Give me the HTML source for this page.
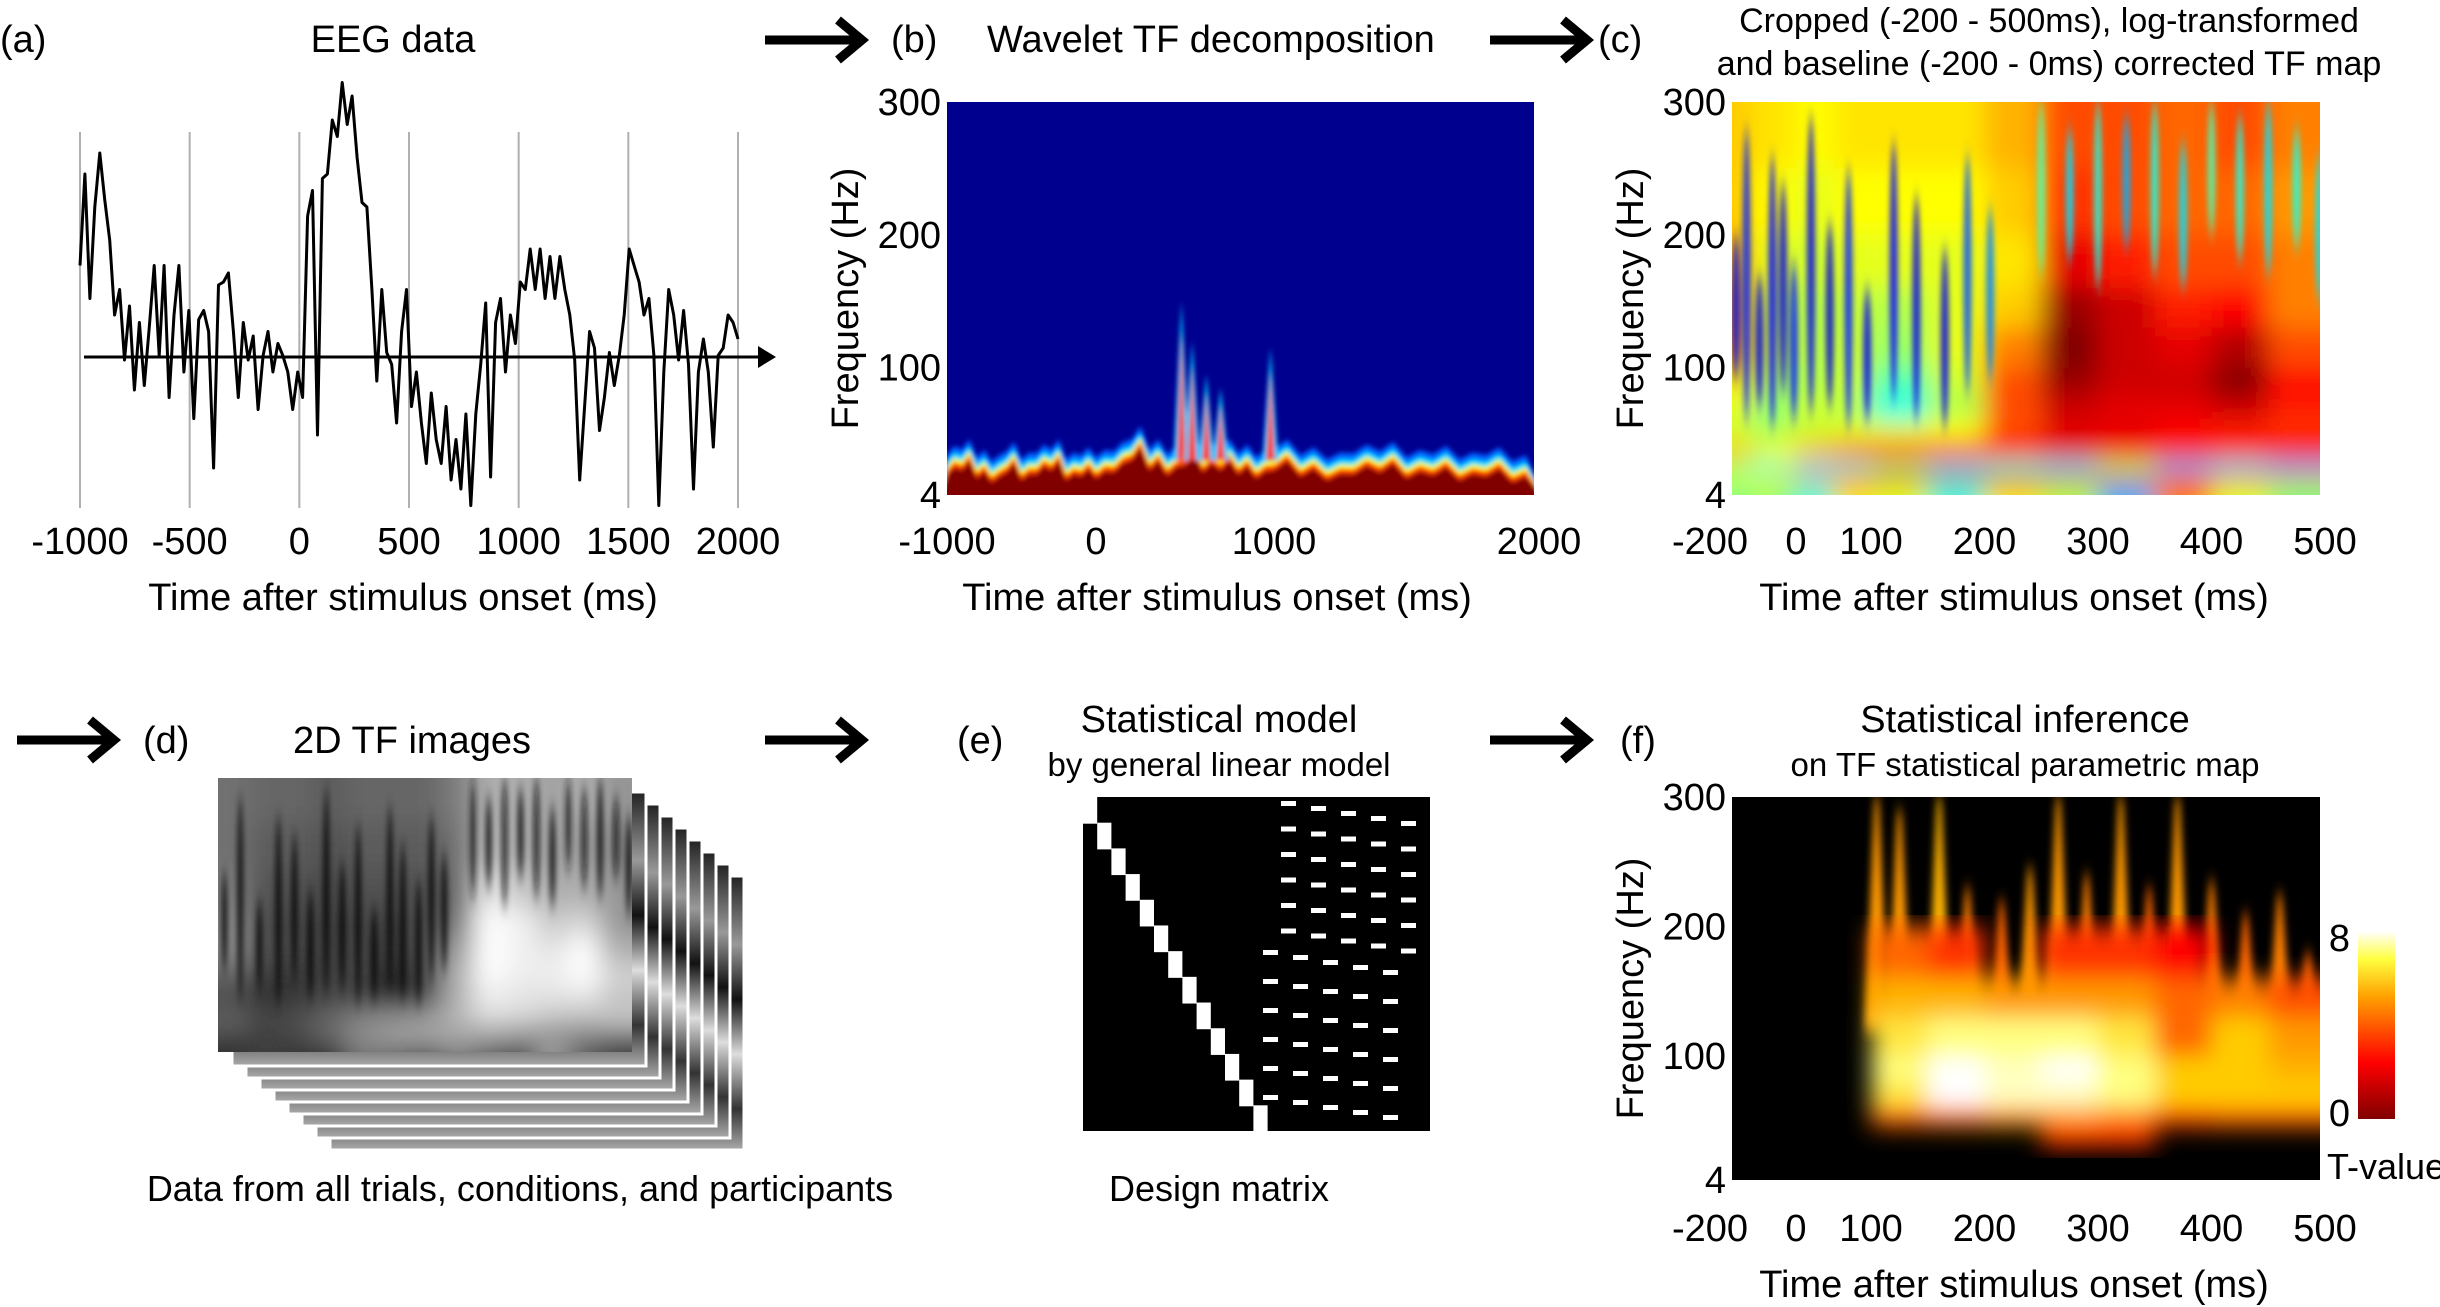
<!DOCTYPE html>
<html><head><meta charset="utf-8"><style>
html,body{margin:0;padding:0;background:#fff;}
svg{display:block;}
text{font-family:"Liberation Sans",Arial,sans-serif;fill:#000;}
</style></head><body>
<svg id="fig" width="2440" height="1307" viewBox="0 0 2440 1307" xmlns="http://www.w3.org/2000/svg">
<defs>
  <filter id="blurC" x="-5%" y="-5%" width="110%" height="110%"><feGaussianBlur stdDeviation="13"/></filter>
  <filter id="blurS" x="-30%" y="-10%" width="160%" height="120%"><feGaussianBlur stdDeviation="3 9"/></filter>
  <filter id="blurF" x="-5%" y="-5%" width="110%" height="110%"><feGaussianBlur stdDeviation="12"/></filter>
  <filter id="blurT" x="-30%" y="-5%" width="160%" height="110%"><feGaussianBlur stdDeviation="4 8"/></filter>
  <filter id="blurB" x="-5%" y="-5%" width="110%" height="110%"><feGaussianBlur stdDeviation="2.5"/></filter>
  <clipPath id="clipB"><rect x="947" y="102" width="587" height="393"/></clipPath>
  <clipPath id="clipC"><rect x="1732" y="102" width="588" height="393"/></clipPath>
  <clipPath id="clipD"><rect x="218" y="778" width="414" height="274"/></clipPath>
  <clipPath id="clipF"><rect x="1732" y="797" width="588" height="383"/></clipPath>
  <linearGradient id="hotBar" x1="0" y1="1" x2="0" y2="0">
    <stop offset="0" stop-color="#800000"/><stop offset="0.3" stop-color="#ff0000"/>
    <stop offset="0.65" stop-color="#ffa000"/><stop offset="0.85" stop-color="#ffff40"/>
    <stop offset="1" stop-color="#ffffff"/>
  </linearGradient>
  <linearGradient id="stripes" x1="0" y1="0" x2="0" y2="1">
    <stop offset="0" stop-color="#222"/><stop offset="0.25" stop-color="#999"/>
    <stop offset="0.45" stop-color="#111"/><stop offset="0.65" stop-color="#ddd"/>
    <stop offset="0.85" stop-color="#333"/><stop offset="1" stop-color="#aaa"/>
  </linearGradient>
</defs>

<g>
  <text x="0" y="52" font-size="38">(a)</text>
  <text x="393" y="52" font-size="38" text-anchor="middle">EEG data</text>
</g>
<g><line x1="765" y1="40" x2="858" y2="40" stroke="#000" stroke-width="9"/><polyline points="838,20 862,40 838,60" fill="none" stroke="#000" stroke-width="9"/></g>
<g>
  <text x="891" y="52" font-size="38">(b)</text>
  <text x="987" y="52" font-size="38">Wavelet TF decomposition</text>
</g>
<g><line x1="1490" y1="40" x2="1583" y2="40" stroke="#000" stroke-width="9"/><polyline points="1563,20 1587,40 1563,60" fill="none" stroke="#000" stroke-width="9"/></g>
<g>
  <text x="1598" y="52" font-size="38">(c)</text>
  <text x="2049" y="32" font-size="34" text-anchor="middle">Cropped (-200 - 500ms), log-transformed</text>
  <text x="2049" y="75" font-size="34" text-anchor="middle">and baseline (-200 - 0ms) corrected TF map</text>
</g>
<g><line x1="17" y1="740" x2="110" y2="740" stroke="#000" stroke-width="9"/><polyline points="90,720 114,740 90,760" fill="none" stroke="#000" stroke-width="9"/></g>
<g>
  <text x="143" y="753" font-size="38">(d)</text>
  <text x="412" y="753" font-size="38" text-anchor="middle">2D TF images</text>
</g>
<g><line x1="765" y1="740" x2="858" y2="740" stroke="#000" stroke-width="9"/><polyline points="838,720 862,740 838,760" fill="none" stroke="#000" stroke-width="9"/></g>
<g>
  <text x="957" y="753" font-size="38">(e)</text>
  <text x="1219" y="732" font-size="38" text-anchor="middle">Statistical model</text>
  <text x="1219" y="776" font-size="33" text-anchor="middle">by general linear model</text>
</g>
<g><line x1="1490" y1="740" x2="1583" y2="740" stroke="#000" stroke-width="9"/><polyline points="1563,720 1587,740 1563,760" fill="none" stroke="#000" stroke-width="9"/></g>
<g>
  <text x="1620" y="753" font-size="38">(f)</text>
  <text x="2025" y="732" font-size="38" text-anchor="middle">Statistical inference</text>
  <text x="2025" y="776" font-size="33" text-anchor="middle">on TF statistical parametric map</text>
</g>

<g id="panelA"></g>
<g id="panelB"></g>
<g id="panelC"></g>
<g id="panelD"></g>
<g id="panelE"></g>
<g id="panelF"></g>

<text x="520" y="1201" font-size="36" text-anchor="middle">Data from all trials, conditions, and participants</text>
<text x="1219" y="1201" font-size="36" text-anchor="middle">Design matrix</text>
</svg>

<script>
// ---------------- DATA ----------------
const eegValues = [61,122,39,100,136,105,78,28,45,-2,34,-22,23,-19,20,61,1,61,-27,28,61,-10,31,-41,25,31,17,-74,48,50,56,17,-27,23,-2,14,-35,1,17,-10,9,1,-10,-35,-10,-27,94,111,-52,119,122,158,147,183,155,174,133,103,100,45,-16,45,3,-5,-44,17,45,-33,-10,-44,-71,-24,-55,-71,-33,-82,-55,-88,-38,-99,-38,-5,36,-80,23,39,-10,28,9,50,45,72,45,72,39,67,39,67,45,28,-2,-82,-33,17,6,-49,-27,3,-19,1,28,72,61,50,28,39,1,-99,-10,45,28,-2,31,-5,-88,-10,12,-10,-60,1,6,28,23,12];
const eegTicks = [-1000,-500,0,500,1000,1500,2000];

const bBandTop = [25,30,22,18,28,20,26,30,20,24,22,28,40,30,25,35,28,30,26,22,30,24,20,26,28,22,25,20,24,18];
const bSpikeTimes = [480,540,620,700,980];
const bSpikeTops = [150,120,95,85,115];
const bXTicks = [-1000,0,1000,2000];
const freqTicks = [4,100,200,300];

const cFreqEdges = [300,250,200,160,130,100,80,60,45,30,20,12,4];
const cTimeStarts = [-150,-100,-50,0,50,100,150,200,250,300,350,400,450];
const cValues = [
 [0.35,0.3,0.3,0.25,0.3,0.3,0.3,0.4,0.6,0.6,0.55,0.6,0.5],
 [0.35,0.25,0.25,0.2,0.25,0.25,0.25,0.35,0.65,0.6,0.55,0.55,0.45],
 [0.4,0.2,0.2,0.15,0.2,0.2,0.2,0.3,0.8,0.7,0.6,0.6,0.5],
 [0.45,0.15,0.15,0.1,0.15,0.1,0.2,0.35,0.95,0.85,0.7,0.75,0.5],
 [0.45,0.15,0.15,0.1,0.15,0.05,0.2,0.5,1.0,0.85,0.8,0.9,0.6],
 [0.3,0.1,0.05,0.1,0.15,-0.1,0.15,0.6,0.95,0.85,0.85,1.0,0.75],
 [0.2,0.0,0.05,0.15,0.1,-0.2,0.1,0.6,0.85,0.8,0.8,0.85,0.7],
 [0.15,0.05,0.1,0.15,0.2,0.2,0.25,0.6,0.8,0.8,0.75,0.7,0.65],
 [0.35,0.2,0.25,0.4,0.55,0.6,0.65,0.7,0.8,0.75,0.7,0.7,0.75],
 [0.0,-0.2,-0.1,-0.3,-0.2,0.0,-0.3,-0.2,-0.3,0.0,-0.4,-0.3,-0.4],
 [0.2,0.2,0.3,0.5,0.7,0.8,0.85,0.85,0.8,0.75,0.7,0.6,0.5],
 [0.0,0.1,0.0,-0.2,0.3,0.2,-0.2,0.3,0.1,-0.4,0.5,0.2,0.0]
];
// narrow low-power streaks in (c): time, low and high frequency, value
const cStreakTimes = [-140,-115,-85,-55,-30,-5,20,45,70,95,120,140,165,185,205,250,275,300,325,350,375,400,425,450,475,495];
const cStreakBottoms = [90,60,70,55,80,60,65,70,55,60,75,60,55,80,90,170,180,160,190,170,160,200,180,170,190,150];
const cStreakTops = [200,280,170,260,240,180,290,210,250,160,270,230,190,260,220,300,280,300,290,300,270,300,290,300,280,260];
const cStreakValues = [-0.8,-0.7,-0.8,-0.75,-0.8,-0.7,-0.8,-0.85,-0.7,-0.8,-0.75,-0.8,-0.8,-0.6,-0.5,-0.1,-0.3,-0.2,-0.4,-0.2,-0.3,-0.1,-0.2,-0.3,-0.2,-0.3];
const cXTicks = [-200,0,100,200,300,400,500];

const fValues = [
 [0,0,0,0,0,0,0,0,0,0,0,0,0],
 [0,0,0,0,0,0,0,0,0,0,0,0,0],
 [0,0,0,0,0,4,3,0,3,3,2,0,0],
 [0,0,0,0,0,5.5,5.5,5,5,5,4,4.5,3.5],
 [0,0,0,0,0,6.5,7,7,7,6.5,4,6,5],
 [0,0,0,0,0,7,8,7.5,8,7,6,6,5.5],
 [0,0,0,0,0,6.5,8,7.5,7.5,7,6,6,6],
 [0,0,0,0,0,4,4.5,5,5,4.5,3.5,4,4],
 [0,0,0,0,0,0,0,0,3,3,0,0,0],
 [0,0,0,0,0,0,0,0,0,0,0,0,0],
 [0,0,0,0,0,0,0,0,0,0,0,0,0],
 [0,0,0,0,0,0,0,0,0,0,0,0,0]
];
const fTongueTimes = [105,125,160,185,215,240,265,290,320,345,370,400,430,460,485];
const fTongueTops = [300,290,300,230,220,245,300,240,300,230,300,235,210,225,180];
const fTongueValues = [5,5,5.5,4.5,4,5,5,4.5,5,4,5,4.5,4,4.5,4];
const fColorbarTicks = [0,8];

const nSubjects = 13;
const nConditions = 5;
const nTrialRowsTop = 6;
const nTrialRowsBottom = 6;

// ---------------- HELPERS ----------------
const NS = 'http://www.w3.org/2000/svg';
function mk(tag, attrs, parent){ const e=document.createElementNS(NS,tag); for(const k in attrs) e.setAttribute(k,attrs[k]); if(parent) parent.appendChild(e); return e; }
function piece(dom, rng){ return v => { for(let i=0;i<dom.length-1;i++){ if(v<=dom[i+1]||i===dom.length-2){ return rng[i]+(v-dom[i])*(rng[i+1]-rng[i])/(dom[i+1]-dom[i]); } } }; }
function clamp(v){ return Math.max(0,Math.min(1,v)); }
function jet(v){ const t=(v+1)/2; const r=clamp(1.5-Math.abs(4*t-3)), g=clamp(1.5-Math.abs(4*t-2)), b=clamp(1.5-Math.abs(4*t-1)); return `rgb(${Math.round(r*255)},${Math.round(g*255)},${Math.round(b*255)})`; }
function gray(v){ const t=clamp((v+0.35)/1.25); const c=Math.round(Math.pow(t,1.4)*255); return `rgb(${c},${c},${c})`; }
function hot(v){ const t=clamp(v/8); const r=clamp(0.5+t*2.2), g=clamp((t-0.25)*1.6), b=clamp((t-0.75)*4); return `rgb(${Math.round(r*255)},${Math.round(g*255)},${Math.round(b*255)})`; }
function txt(parent, x, y, s, size, anchor){ const t=mk('text',{x:x,y:y,'font-size':size,'text-anchor':anchor||'middle'},parent); t.textContent=s; return t; }

// ---------------- PANEL A ----------------
(function(){
  const g=document.getElementById('panelA');
  const x=piece([-1000,2000],[80,738]);
  const y=v=>357 - v*1.5;
  eegTicks.forEach(t=>{
    const l=mk('line',{x1:x(t),x2:x(t),y1:132,y2:508,stroke:'#b0b0b0','stroke-width':2},g);
     
    const lb=txt(g,x(t),554,String(t),38);
     
  });
  const ax=mk('line',{x1:84,x2:762,y1:357,y2:357,stroke:'#000','stroke-width':3},g);
   
  const ah=mk('polygon',{points:'758,346 776,357 758,368',fill:'#000'},g);
   
  const n=eegValues.length;
  const pts=eegValues.map((v,i)=>`${x(-1000+i*3000/(n-1)).toFixed(1)},${y(v).toFixed(1)}`).join(' ');
  const p=mk('polyline',{points:pts,fill:'none',stroke:'#000','stroke-width':3,'stroke-linejoin':'round'},g);
   
  const at=txt(g,403,610,'Time after stimulus onset (ms)',38);
   
})();

function freqAxis(g, left, top, bottom, labelX, prefix){
  const fy=piece([4,300],[bottom,top]);
  freqTicks.forEach(f=>{
    const t=txt(g,left-6,fy(f)+13,String(f),38,'end');
     
  });
  const cy=(top+bottom)/2;
  const yl=txt(g,labelX,cy,'Frequency (Hz)',38);
  yl.setAttribute('transform',`rotate(-90 ${labelX} ${cy})`);
   
  return fy;
}

// ---------------- PANEL B ----------------
(function(){
  const g=document.getElementById('panelB');
  const x=piece([-1000,0,1000,2000],[947,1096,1274,1539]);
  const fy=freqAxis(g,947,102,495,858,'wavelet');
  const bg=mk('rect',{x:947,y:102,width:587,height:393,fill:'#00008f'},g);
   
  const hm=mk('g',{'clip-path':'url(#clipB)'},g);
   
  const inner=mk('g',{filter:'url(#blurB)'},hm);
  const n=bBandTop.length;
  const layers=[[16,'#0060ff'],[11,'#00d8ff'],[7,'#ffff00'],[4,'#ff4000'],[0,'#800000']];
  layers.forEach(([pad,col])=>{
    let pts=`${x(-1000)-10},${fy(4)+10} `;
    bBandTop.forEach((f,i)=>{ const t0=-1000+i*3000/n, t1=-1000+(i+1)*3000/n; pts+=`${x(t0)},${fy(f*0.75+pad)} ${x((t0+t1)/2)},${fy(f+pad)} `; });
    pts+=`${x(2000)+10},${fy(4)+10}`;
    const pg=mk('polygon',{points:pts,fill:col},inner);
     
  });
  bSpikeTimes.forEach((t,i)=>{
    const top=bSpikeTops[i];
    const s1=mk('polygon',{points:`${x(t)-8},${fy(30)} ${x(t)},${fy(top)} ${x(t)+8},${fy(30)}`,fill:'#00c8ff'},inner);
     
    const s2=mk('polygon',{points:`${x(t)-4},${fy(30)} ${x(t)},${fy(top*0.85)} ${x(t)+4},${fy(30)}`,fill:'#ff3000'},inner);
     
  });
  bXTicks.forEach(t=>{
    const lb=txt(g,x(t),554,String(t),38);
     
  });
  const at=txt(g,1217,610,'Time after stimulus onset (ms)',38);
   
})();

function grid(parent, values, cmap, x, fy, skipBelow){
  values.forEach((row,r)=>{
    row.forEach((v,c)=>{
      if(skipBelow!==undefined && v<skipBelow) return;
      const t0=cTimeStarts[c], t1=c+1<cTimeStarts.length?cTimeStarts[c+1]:500;
      const x0=c===0?x(t0)-40:x(t0), x1=c===row.length-1?x(t1)+30:x(t1);
      const y0=r===0?fy(cFreqEdges[r])-30:fy(cFreqEdges[r]);
      const y1=r===values.length-1?fy(cFreqEdges[r+1])+30:fy(cFreqEdges[r+1]);
      const rc=mk('rect',{x:x0,y:y0,width:x1-x0+0.5,height:y1-y0+0.5,fill:cmap(v)},parent);
       
    });
  });
}
function streaks(parent, cmap, x, fy, w){
  cStreakTimes.forEach((t,i)=>{
    const yb=fy(cStreakBottoms[i]), yt=fy(cStreakTops[i]);
    const e=mk('ellipse',{cx:x(t),cy:(yb+yt)/2,rx:w,ry:(yb-yt)/2,fill:cmap(cStreakValues[i]),opacity:0.85},parent);
     
  });
}

// ---------------- PANEL C ----------------
const cx=piece([-200,0,100,500],[1710,1796,1871,2325]);
(function(){
  const g=document.getElementById('panelC');
  const fy=freqAxis(g,1732,102,495,1643,'tf-corrected');
  const hm=mk('g',{'clip-path':'url(#clipC)'},g);
   
  const inner=mk('g',{filter:'url(#blurC)'},hm);
  grid(inner,cValues,jet,cx,fy);
  const sg=mk('g',{filter:'url(#blurS)'},hm);
  streaks(sg,jet,cx,fy,4);
  cXTicks.forEach(t=>{
    const lb=txt(g,cx(t),554,String(t),38);
     
  });
  const at=txt(g,2014,610,'Time after stimulus onset (ms)',38);
   
})();

// ---------------- PANEL D ----------------
(function(){
  const g=document.getElementById('panelD');
  for(let k=8;k>=1;k--){
    const lx=218+k*14, ly=778+k*12+2;
    const r=mk('rect',{x:lx,y:ly,width:414,height:274,fill:'url(#stripes)',stroke:'#fff','stroke-width':3},g);
     
  }
  const bg=mk('rect',{x:218,y:778,width:414,height:274,fill:'#fff'},g);
   
  const hm=mk('g',{'clip-path':'url(#clipD)'},g);
   
  const inner=mk('g',{filter:'url(#blurC)'},hm);
  const dx=piece([-150,500],[218,632]);
  const dfy=piece([4,300],[1052,778]);
  grid(inner,cValues,gray,dx,dfy);
  const sg=mk('g',{filter:'url(#blurS)'},hm);
  streaks(sg,gray,dx,dfy,3);
})();

// ---------------- PANEL E ----------------
(function(){
  const g=document.getElementById('panelE');
  const L=1083, T=797, W=347, H=334;
  const bg=mk('rect',{x:L,y:T,width:W,height:H,fill:'#000'},g);
   
  const sw=14.2, sh=H/nSubjects;
  for(let i=0;i<nSubjects;i++){
    const s=mk('rect',{x:L+i*sw,y:T+i*sh,width:sw,height:sh+1,fill:'#fff'},g);
     
  }
  const colW=30;
  for(let k=0;k<nTrialRowsTop;k++){
    for(let c=0;c<nConditions;c++){
      const d=mk('rect',{x:L+198+c*colW,y:T+4+k*25.5+c*5,width:15,height:5,fill:'#fff'},g);
       
    }
  }
  for(let k=0;k<nTrialRowsBottom;k++){
    for(let c=0;c<nConditions;c++){
      const d=mk('rect',{x:L+180+c*colW,y:T+153+k*29+c*5,width:15,height:5,fill:'#fff'},g);
       
    }
  }
})();

// ---------------- PANEL F ----------------
(function(){
  const g=document.getElementById('panelF');
  const fy=freqAxis(g,1732,797,1180,1643,'spm');
  const bg=mk('rect',{x:1732,y:797,width:588,height:383,fill:'#000'},g);
   
  const hm=mk('g',{'clip-path':'url(#clipF)'},g);
   
  const tg=mk('g',{filter:'url(#blurT)'},hm);
  fTongueTimes.forEach((t,i)=>{
    const p=mk('polygon',{points:`${cx(t)-12},${fy(120)} ${cx(t)-2},${fy(fTongueTops[i])} ${cx(t)+2},${fy(fTongueTops[i])} ${cx(t)+12},${fy(120)}`,fill:hot(fTongueValues[i])},tg);
     
  });
  const inner=mk('g',{filter:'url(#blurF)'},hm);
  grid(inner,fValues,hot,cx,fy,2);
  cXTicks.forEach(t=>{
    const lb=txt(g,cx(t),1241,String(t),38);
     
  });
  const at=txt(g,2014,1297,'Time after stimulus onset (ms)',38);
   
  const cb=mk('rect',{x:2358,y:931,width:37,height:188,fill:'url(#hotBar)'},g);
   
  const cby=piece([0,8],[1113,938]);
  fColorbarTicks.forEach(v=>{
    const t=txt(g,2350,cby(v)+13,String(v),38,'end');
     
  });
  const cl=txt(g,2327,1179,'T-value',36,'start');
   
})();
</script>
</body></html>
